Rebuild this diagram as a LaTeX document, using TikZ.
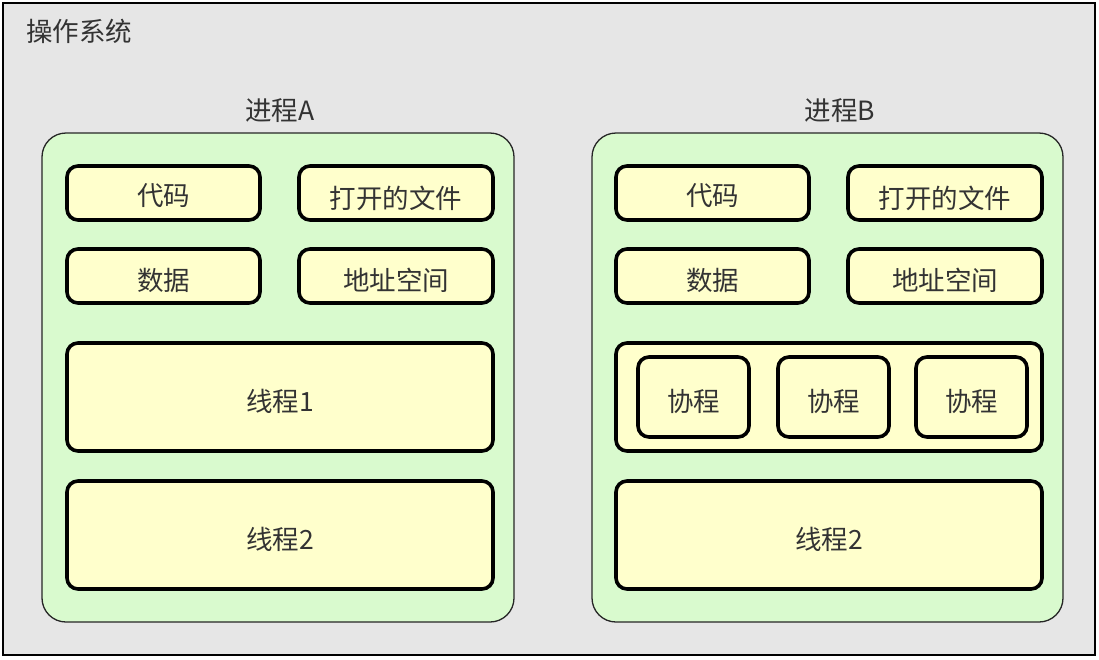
\documentclass[tikz,border=0pt]{standalone}
\usepackage{fontspec}
\setmainfont{Noto Sans CJK SC}
\begin{document}
\begin{tikzpicture}[x=1pt,y=-1pt,
  os/.style={draw=black,line width=2.2pt,fill=osgray},
  proc/.style={draw=black!85,line width=1.3pt,fill=procgreen,rounded corners=24pt},
  item/.style={draw=black,line width=3.6pt,fill=itemyellow,rounded corners=11pt},
  lbl/.style={text=textgray,font=\fontsize{26.5}{30}\selectfont,inner sep=0pt}]
\definecolor{osgray}{HTML}{E6E6E6}
\definecolor{procgreen}{HTML}{D9FACE}
\definecolor{itemyellow}{HTML}{FFFFCC}
\definecolor{textgray}{HTML}{333333}
\useasboundingbox (0,0) rectangle (1099,659);
\fill[white] (0,0) rectangle (1099,659);
\draw[os] (3,3) rectangle (1095,655);
\node[lbl,anchor=west] (os) at (26,31) {操作系统};
% process A
\node[lbl] (pAl) at (280,111) {进程A};
\draw[proc] (42,133) rectangle (514,622);
\draw[item] (67,166) rectangle (260,220);
\node[lbl] (a1) at (163.5,196) {代码};
\draw[item] (299,166) rectangle (493,220);
\node[lbl] (a2) at (396,198) {打开的文件};
\draw[item] (67,249) rectangle (260,303);
\node[lbl] (a3) at (163.5,280) {数据};
\draw[item] (299,249) rectangle (493,303);
\node[lbl] (a4) at (396,280) {地址空间};
\draw[item] (67,343) rectangle (493,451);
\node[lbl] (a5) at (280,401) {线程1};
\draw[item] (67,481) rectangle (493,589);
\node[lbl] (a6) at (280,539) {线程2};
% process B
\node[lbl] (pBl) at (840,111) {进程B};
\draw[proc] (592,133) rectangle (1063,622);
\draw[item] (616,166) rectangle (809,220);
\node[lbl] (b1) at (712.5,196) {代码};
\draw[item] (848,166) rectangle (1042,220);
\node[lbl] (b2) at (945,198) {打开的文件};
\draw[item] (616,249) rectangle (809,303);
\node[lbl] (b3) at (712.5,280) {数据};
\draw[item] (848,249) rectangle (1042,303);
\node[lbl] (b4) at (945,280) {地址空间};
\draw[item] (616,343) rectangle (1042,451);
\draw[item] (638,357) rectangle (749,437);
\node[lbl] (c1) at (693.5,401) {协程};
\draw[item] (778,357) rectangle (889,437);
\node[lbl] (c2) at (833.5,401) {协程};
\draw[item] (916,357) rectangle (1027,437);
\node[lbl] (c3) at (971.5,401) {协程};
\draw[item] (616,481) rectangle (1042,589);
\node[lbl] (b6) at (829,539) {线程2};
\end{tikzpicture}
\end{document}
